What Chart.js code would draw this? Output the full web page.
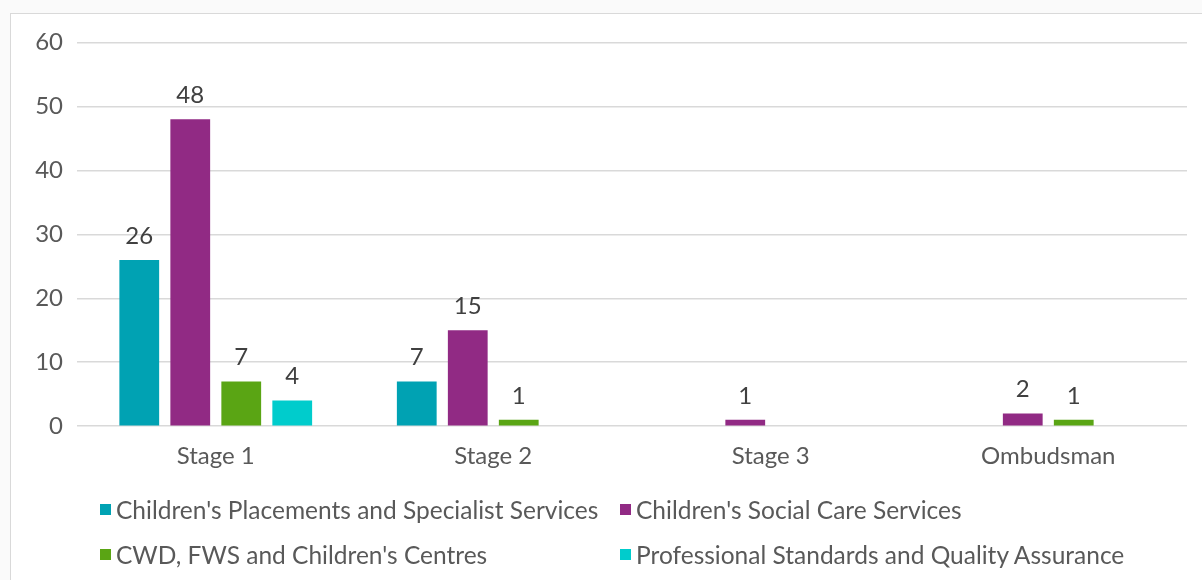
<!DOCTYPE html>
<html>
<head>
<meta charset="utf-8">
<script src="https://cdn.jsdelivr.net/npm/chart.js@4.4.1/dist/chart.umd.min.js"></script>
<style>
  html, body { margin: 0; padding: 0; background: #fafafa; }
  body { width: 1202px; height: 580px; position: relative; overflow: hidden; font-family: Lato, "Open Sans", sans-serif; }
  #box {
    position: absolute; left: 10px; top: 13px; width: 1200px; height: 580px;
    background: #fff; border: 1.5px solid #d9d9d9; box-sizing: border-box;
  }
  #wrap { position: absolute; left: 11px; top: 14px; width: 1191px; height: 566px; }
  #legend {
    position: absolute; left: 100px; top: 494px;
    display: grid; grid-template-columns: 520px 520px; row-gap: 15px;
    color: #595959; font-size: 24.5px;
  }
  #legend .item { display: flex; align-items: center; height: 30px; white-space: nowrap; }
  #legend .swatch { width: 11px; height: 11px; margin-right: 5px; }
</style>
</head>
<body>
<div id="box"></div>
<div id="wrap"><canvas id="stageChart"></canvas></div>
<div id="legend"></div>
<script>
// categories and series
const stages = ['Stage 1', 'Stage 2', 'Stage 3', 'Ombudsman'];
const seriesNames = [
  "Children's Placements and Specialist Services",
  "Children's Social Care Services",
  "CWD, FWS and Children's Centres",
  'Professional Standards and Quality Assurance'
];
const placements = [26, 7, 0, 0];
const socialCare = [48, 15, 1, 2];
const cwdCentres = [7, 1, 0, 1];
const profStandards = [4, 0, 0, 0];
const seriesColours = ['#00a2b3', '#912a84', '#5aa514', '#00cccc'];
const yTicks = [0, 10, 20, 30, 40, 50, 60];

const seriesValues = [placements, socialCare, cwdCentres, profStandards];

// value labels above each bar (zeros left blank)
const barLabels = {
  id: 'barLabels',
  afterDatasetsDraw(chart) {
    const ctx = chart.ctx;
    ctx.save();
    ctx.font = '24px Lato';
    ctx.fillStyle = '#404040';
    ctx.textAlign = 'center';
    ctx.textBaseline = 'middle';
    chart.data.datasets.forEach((ds, i) => {
      chart.getDatasetMeta(i).data.forEach((bar, j) => {
        const v = ds.data[j];
        if (!v) return;
        ctx.fillText(String(v), bar.x, bar.y - 24);
      });
    });
    ctx.restore();
  }
};

const stageChart = new Chart(document.getElementById('stageChart'), {
  type: 'bar',
  data: {
    labels: stages,
    datasets: seriesNames.map((name, i) => ({
      label: name,
      data: seriesValues[i],
      backgroundColor: seriesColours[i],
      borderWidth: 0,
      categoryPercentage: 0.735,
      barPercentage: 0.78
    }))
  },
  options: {
    responsive: true,
    maintainAspectRatio: false,
    animation: false,
    layout: { padding: { top: 28, right: 15, bottom: 93, left: 0 } },
    plugins: {
      legend: { display: false },
      tooltip: { enabled: false }
    },
    scales: {
      x: {
        grid: { display: false, drawTicks: false },
        border: { display: false },
        ticks: { color: '#595959', font: { family: 'Lato', size: 24 }, padding: 16 }
      },
      y: {
        min: 0,
        max: 60,
        afterBuildTicks: s => { s.ticks = yTicks.map(v => ({ value: v })); },
        afterFit: s => { s.width = 66; },
        grid: { color: '#d9d9d9', lineWidth: 1.5, drawTicks: false },
        border: { display: false },
        ticks: { color: '#595959', font: { family: 'Lato', size: 24 }, padding: 14 }
      }
    }
  },
  plugins: [barLabels]
});

// two-column legend under the plot
const legendEl = document.getElementById('legend');
stageChart.data.datasets.forEach(ds => {
  const item = document.createElement('div');
  item.className = 'item';
  const sw = document.createElement('span');
  sw.className = 'swatch';
  sw.style.background = ds.backgroundColor;
  const txt = document.createElement('span');
  txt.textContent = ds.label;
  item.appendChild(sw);
  item.appendChild(txt);
  legendEl.appendChild(item);
});
</script>
</body>
</html>
